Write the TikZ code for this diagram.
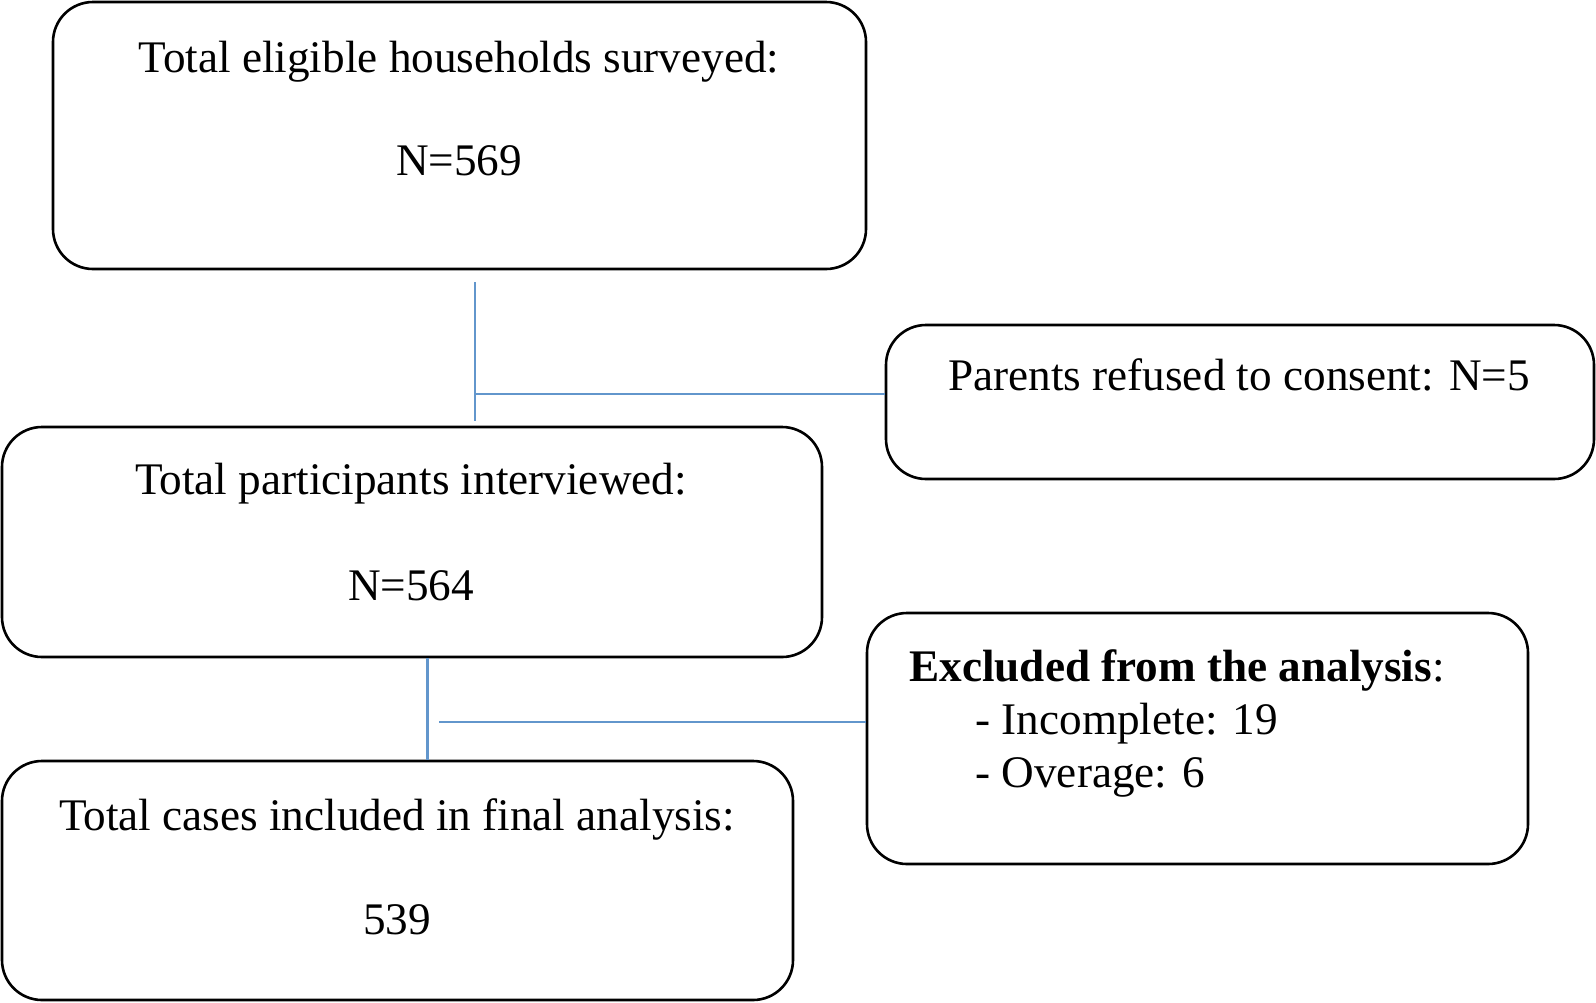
\documentclass[tikz,border=0pt]{standalone}
\usepackage{fontspec}
\setmainfont{Liberation Serif}
\usetikzlibrary{calc,positioning}
\definecolor{linkblue}{RGB}{98,150,204}

\begin{document}
\begin{tikzpicture}[x=0.5pt,y=-0.5pt,
        box/.style={draw,line width=1.3pt,rounded corners=20pt,inner sep=0pt},
        link/.style={draw=linkblue,line width=1.3pt},
        txt/.style={font=\fontsize{22.6}{26.5}\selectfont,inner sep=0pt}]
        \useasboundingbox (0,0) rectangle (1596,1002);
        %boxes
        \node[box,minimum width=406.5pt,minimum height=133.5pt] (surveyed) at (459.5,135.5) {};
        \node[box,minimum width=354pt,minimum height=77pt] (refused) at (1240,402) {};
        \node[box,minimum width=410pt,minimum height=115pt] (interviewed) at (412,542) {};
        \node[box,minimum width=330.5pt,minimum height=125.5pt] (excluded) at (1197.5,738.5) {};
        \node[box,minimum width=395.5pt,minimum height=119.5pt] (final) at (397.5,880.5) {};
        
        %texts
        \node[txt] (surveyedA) at (459,62) {Total eligible households surveyed:};
        \node[txt] (surveyedN) at (459,161) {N=569};
        \node[txt] (refusedA) at (1239,375) {Parents refused to consent: N=5};
        \node[txt] (interviewedA) at (411,484) {Total participants interviewed:};
        \node[txt] (interviewedN) at (411,586) {N=564};
        \node[txt,align=left,anchor=west] (excludedA) at (909,723)
            {\textbf{Excluded from the analysis}:\\
             \hspace*{33pt}- Incomplete: 19\\
             \hspace*{33pt}- Overage: 6};
        \node[txt] (finalA) at (397,819) {Total cases included in final analysis:};
        \node[txt] (finalN) at (397,920) {539};
        
        %connectors
        \coordinate (v1) at (475,282);
        \coordinate (v2) at (475,421);
        \coordinate (j1) at (476,394);
        \draw[link] (v1) -- (v2);
        \draw[link] (j1) -- (j1 -| refused.west);
        \coordinate (j2) at (427.5,722);
        \coordinate (h2) at (439,722);
        \draw[link] (j2 |- interviewed.south) -- (j2 |- final.north);
        \draw[link] (h2) -- (h2 -| excluded.west);
\end{tikzpicture}
\end{document}
